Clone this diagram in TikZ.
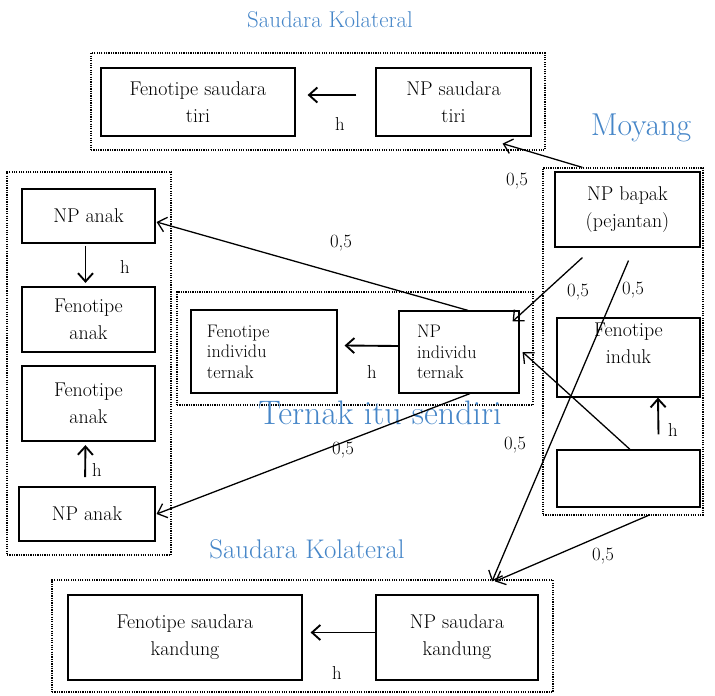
\documentclass[tikz,border=0pt]{standalone}
\usepackage{fontspec}
\usetikzlibrary{arrows.meta,fit,calc}
\definecolor{titleblue}{RGB}{70,134,200}

\begin{document}
\begin{tikzpicture}[x=0.03cm, y=-0.03cm,
    box/.style={draw, line width=1pt, inner sep=2pt, align=center, font=\fontsize{17}{23}\selectfont},
    smallbox/.style={box, align=left, font=\fontsize{15.5}{17.5}\selectfont},
    group/.style={draw, densely dotted, line width=1pt, inner sep=0pt},
    arr/.style={-{Straight Barb[length=2.5mm,width=4.5mm]}, line width=1.1pt},
    harr/.style={arr, line width=1.6pt},
    title/.style={text=titleblue},
    lbl/.style={font=\fontsize{16}{18}\selectfont}]

    \useasboundingbox (0,0) rectangle (715,696);

    % Saudara kolateral (tiri)
    \node[title, font=\fontsize{19.5}{22}\selectfont] (ttiri) at (330,20) {Saudara Kolateral};
    \node[group, fit={(91,53) (545,150)}] (gtiri) {};
    \node[box, minimum width=5.82cm, minimum height=2.04cm] (fentiri) at (198,102) {Fenotipe saudara\\tiri};
    \node[box, minimum width=4.65cm, minimum height=2.04cm] (nptiri) at (453.5,102) {NP saudara\\tiri};
    \draw[harr] ($(nptiri.west)+(-19,-7)$) -- ($(fentiri.east)+(12,-7)$);
    \node[lbl] (htiri) at (340,124) {h};

    % Moyang
    \node[title, font=\fontsize{27}{30}\selectfont] (tmoyang) at (641,128) {Moyang};
    \node[group, fit={(543,168) (703,515)}] (gmoyang) {};
    \node[box, minimum width=4.35cm, minimum height=2.25cm] (bapak) at (627.5,209.5) {NP bapak\\(pejantan)};
    \node[box, minimum width=4.29cm, minimum height=2.37cm] (fenind) at (628.5,357.5) {Fenotipe\\induk\\[2pt]};
    \node[box, minimum width=4.29cm, minimum height=1.71cm] (induk) at (628.5,478.5) {};
    \draw[harr] ($(induk.north)+(30,-15)$) -- ($(fenind.south)+(29.5,0)$);
    \node[lbl] (hinduk) at (673,430) {h};

    % Ternak itu sendiri
    \node[group, fit={(177,292) (533,405)}] (gindv) {};
    \node[smallbox, minimum width=4.38cm, minimum height=2.49cm, inner xsep=0.48cm,
        text width=3.42cm] (fenindv) at (264,351.5) {Fenotipe\\individu\\ternak};
    \node[smallbox, minimum width=3.6cm, minimum height=2.46cm, inner xsep=0.54cm,
        text width=2.52cm] (npindv) at (459,352) {NP\\individu\\ternak};
    \draw[harr] ($(npindv.west)+(0,-6)$) -- ($(fenindv.east)+(7,-6)$);
    \node[lbl] (hindv) at (372,372) {h};
    \node[title, font=\fontsize{29}{32}\selectfont] (tindv) at (380,413) {Ternak itu sendiri};

    % Anak
    \node[group, fit={(7,172) (171,555)}] (ganak) {};
    \node[box, minimum width=3.99cm, minimum height=1.62cm] (npanaka) at (88.5,216) {NP anak};
    \node[box, minimum width=3.99cm, minimum height=1.95cm] (fenanaka) at (88.5,319.5) {Fenotipe\\anak};
    \node[box, minimum width=3.99cm, minimum height=2.25cm] (fenanakb) at (88.5,403.5) {Fenotipe\\anak};
    \node[box, minimum width=4.08cm, minimum height=1.62cm] (npanakb) at (87,514) {NP anak};
    \draw[harr, shorten <=2pt, shorten >=3pt] ($(npanaka.south)+(-3,0)$) -- ($(fenanaka.north)+(-3,0)$);
    \node[lbl] (hanaka) at (125,267) {h};
    \draw[harr, shorten <=8pt, shorten >=3pt] ($(npanakb.north)+(-2,0)$) -- ($(fenanakb.south)+(-3,0)$);
    \node[lbl] (hanakb) at (97,470) {h};

    % Saudara kolateral (kandung)
    \node[title, font=\fontsize{23}{26}\selectfont] (tkand) at (307,549) {Saudara Kolateral};
    \node[group, fit={(52,580) (553,692)}] (gkand) {};
    \node[box, minimum width=7.02cm, minimum height=2.55cm] (fenkand) at (185,637.5) {Fenotipe saudara\\kandung};
    \node[box, minimum width=4.86cm, minimum height=2.55cm] (npkand) at (457,637.5) {NP saudara\\kandung};
    \draw[harr] ($(npkand.west)+(0,-5)$) -- ($(fenkand.east)+(8,-5)$);
    \node[lbl] (hkand) at (337,673) {h};

    % Connectors 0,5
    \draw[arr] ($(bapak.north west)+(28,-4)$) -- ($(nptiri.south east)+(-29,7)$);
    \node[lbl] (wa) at (517,181) {0,5};
    \draw[arr] ($(npindv.north)+(9,0)$) -- ($(npanaka.east)+(1,6)$);
    \node[lbl] (wb) at (341,243) {0,5};
    \draw[arr] ($(bapak.south west)+(28,10)$) -- ($(npindv.north east)+(-7,11)$);
    \node[lbl] (wc) at (578,292) {0,5};
    \draw[arr] ($(bapak.south)+(1,13)$) -- ($(npkand.north)+(35,-13)$);
    \node[lbl] (wd) at (633,290) {0,5};
    \draw[arr] ($(induk.north)+(1.5,0)$) -- ($(npindv.east)+(3,0)$);
    \node[lbl] (we) at (515,445) {0,5};
    \draw[arr] ($(npindv.south)+(11,0)$) -- ($(npanakb.east)+(1,0)$);
    \node[lbl] (wf) at (343,450) {0,5};
    \draw[arr] ($(gmoyang.south)+(25,0)$) -- ($(npkand.north)+(38,-13)$);
    \node[lbl] (wg) at (603,556) {0,5};
\end{tikzpicture}
\end{document}
